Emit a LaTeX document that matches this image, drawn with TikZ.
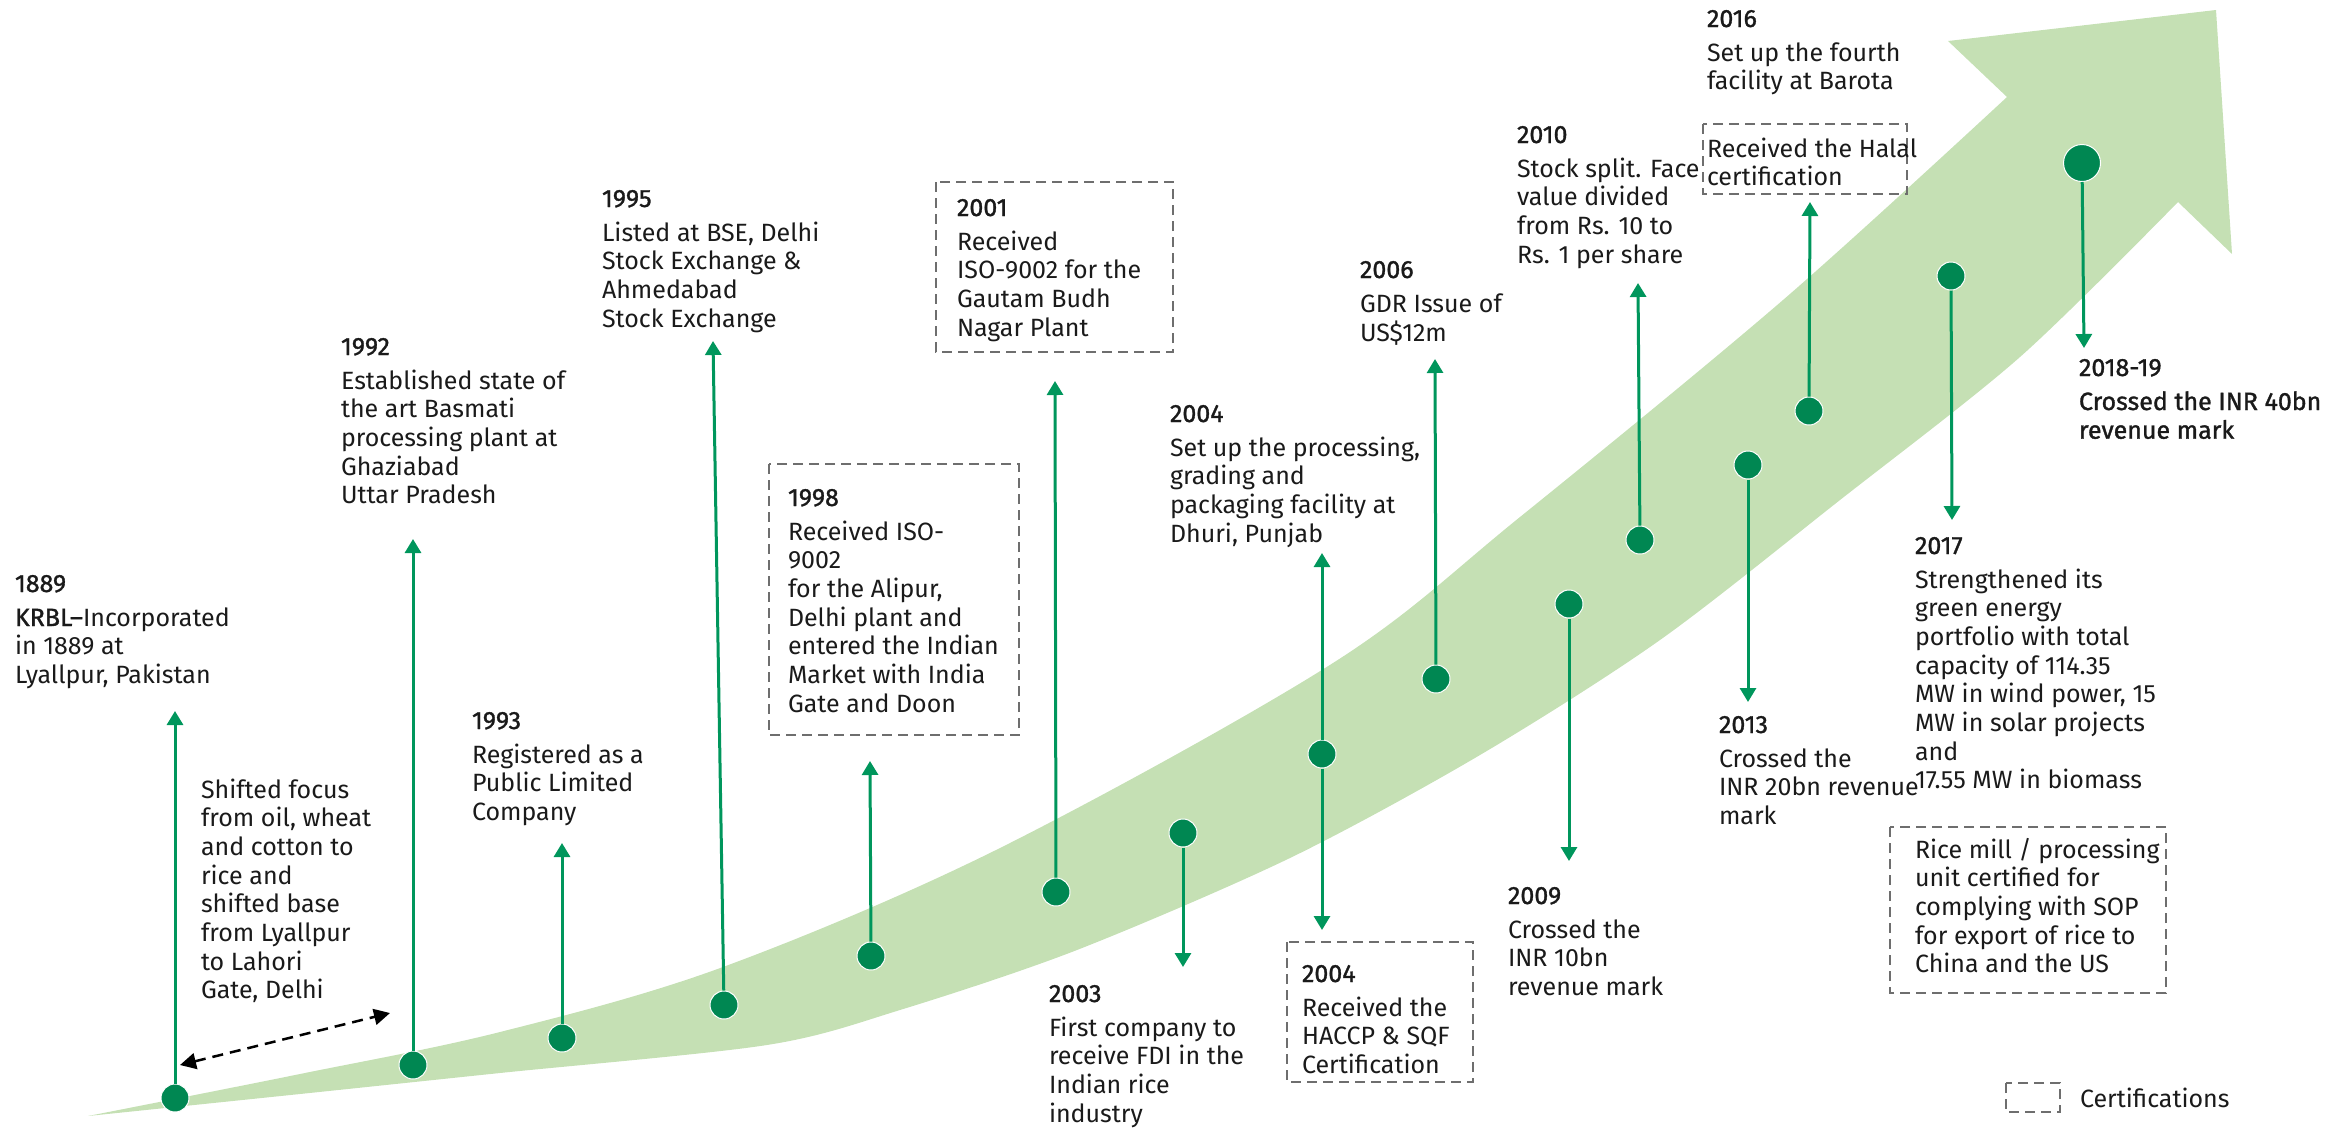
\documentclass[tikz,border=0pt]{standalone}
\usepackage{fontspec}
\setmainfont{Fira Sans}
\newfontfamily\yrfont[FakeBold=1.3]{Fira Sans}
\usetikzlibrary{arrows.meta}
\definecolor{bandg}{HTML}{C5E0B4}
\definecolor{dotg}{HTML}{008752}
\definecolor{arrg}{HTML}{00965C}
\definecolor{boxg}{HTML}{6E6E6E}
\definecolor{txt}{HTML}{1A1A1A}
\newcommand\bodyfont{\fontsize{25pt}{28.7pt}\selectfont}
\newcommand\ev[2]{\begin{tabular}[t]{@{}l@{}}{\yrfont #1}\\[5.3pt]#2\end{tabular}}
\newcommand\lns[1]{\begin{tabular}[t]{@{}l@{}}#1\end{tabular}}
\tikzset{
 dot/.style={circle, fill=dotg, draw=white, line width=1pt, minimum size=28pt, inner sep=0pt},
 bigdot/.style={dot, minimum size=37pt},
 garr/.style={draw=arrg, line width=3pt, -{Triangle[width=16pt,length=14pt]}},
 evt/.style={anchor=base west, inner sep=0pt, outer sep=0pt, text=txt, font=\bodyfont},
 certbox/.style={draw=boxg, line width=2.6pt, dash pattern=on 10pt off 6pt},
 darr/.style={draw=black, line width=2.5pt, dash pattern=on 11pt off 7pt, {Triangle[width=16pt,length=16pt]}-{Triangle[width=16pt,length=16pt]}}
}
\begin{document}
\begin{tikzpicture}[x=1pt,y=-1pt]
\useasboundingbox (0,0) rectangle (2348,1130);
% band arrow
\fill[bandg] plot[smooth, tension=0.55] coordinates {(88,1116) (300,1074) (500,1032) (723,967) (1000,848) (1333,663) (1520,517) (1783,300) (2007,97)}
  -- (1948,41) -- (2216,10) -- (2232,254) -- (2178,202)
  -- plot[smooth, tension=0.5] coordinates {(2178,202) (2020,357) (1840,500) (1660,640) (1480,755) (1290,858) (1077,950) (900,1010) (767,1045) (500,1073) (300,1094) (88,1116)} -- cycle;

% certification boxes
\draw[certbox] (769,464) rectangle (1019,735);
\draw[certbox] (936,182) rectangle (1173,352);
\draw[certbox] (1287,942) rectangle (1473,1082);
\draw[certbox] (1703,124) rectangle (1907,194);
\draw[certbox] (1890,827) rectangle (2166,993);
\draw[certbox] (2006,1083) rectangle (2060,1112);

% dots
\node[dot] (d1889) at (175,1098) {};
\node[dot] (d1992) at (413,1065) {};
\node[dot] (d1993) at (562,1038) {};
\node[dot] (d1995) at (724,1005) {};
\node[dot] (d1998) at (871,956) {};
\node[dot] (d2001) at (1056,892) {};
\node[dot] (d2003) at (1183,833) {};
\node[dot] (d2004) at (1322,754) {};
\node[dot] (d2006) at (1436,679) {};
\node[dot] (d2009) at (1569,604) {};
\node[dot] (d2010) at (1640,540) {};
\node[dot] (d2013) at (1748,465) {};
\node[dot] (d2016) at (1809,411) {};
\node[dot] (d2017) at (1951,276) {};
\node[bigdot] (d2018) at (2082,163) {};

% arrow tips
\coordinate (t1889) at (175,711);
\coordinate (t1992) at (413,539);
\coordinate (t1993) at (562,843);
\coordinate (t1995) at (713,341);
\coordinate (t1998) at (870,761);
\coordinate (t2001) at (1055,381);
\coordinate (t2003) at (1183,967);
\coordinate (t2004u) at (1322,553);
\coordinate (t2004d) at (1322,930);
\coordinate (t2006) at (1435,359);
\coordinate (t2009) at (1569,861);
\coordinate (t2010) at (1638,283);
\coordinate (t2013) at (1748,702);
\coordinate (t2016) at (1810,202);
\coordinate (t2017) at (1952,520);
\coordinate (t2018) at (2084,348);

\draw[garr] (d1889) -- (t1889);
\draw[garr] (d1992) -- (t1992);
\draw[garr] (d1993) -- (t1993);
\draw[garr] (d1995) -- (t1995);
\draw[garr] (d1998) -- (t1998);
\draw[garr] (d2001) -- (t2001);
\draw[garr] (d2003) -- (t2003);
\draw[garr] (d2004) -- (t2004u);
\draw[garr] (d2004) -- (t2004d);
\draw[garr] (d2006) -- (t2006);
\draw[garr] (d2009) -- (t2009);
\draw[garr] (d2010) -- (t2010);
\draw[garr] (d2013) -- (t2013);
\draw[garr] (d2016) -- (t2016);
\draw[garr] (d2017) -- (t2017);
\draw[garr] (d2018) -- (t2018);

% dashed double arrow
\coordinate (sa) at (180,1065);
\coordinate (sb) at (390,1013);
\draw[darr] (sa) -- (sb);

% texts
\node[evt] (n1889) at (15,592) {\ev{1889}{{\yrfont KRBL–}Incorporated\\in 1889 at\\Lyallpur, Pakistan}};
\node[evt] (nshift) at (201,798) {\lns{Shifted focus\\from oil, wheat\\and cotton to\\rice and\\shifted base\\from Lyallpur\\to Lahori\\Gate, Delhi}};
\node[evt] (n1992) at (341,355) {\ev{1992}{Established state of\\the art Basmati\\processing plant at\\Ghaziabad\\Uttar Pradesh}};
\node[evt] (n1993) at (472,729) {\ev{1993}{Registered as a\\Public Limited\\Company}};
\node[evt] (n1995) at (602,207) {\ev{1995}{Listed at BSE, Delhi\\Stock Exchange \&\\Ahmedabad\\Stock Exchange}};
\node[evt] (n1998) at (788,506) {\ev{1998}{Received ISO-\\9002\\for the Alipur,\\Delhi plant and\\entered the Indian\\Market with India\\Gate and Doon}};
\node[evt] (n2001) at (957,216) {\ev{2001}{Received\\ISO-9002 for the\\Gautam Budh\\Nagar Plant}};
\node[evt] (n2003) at (1049,1002) {\ev{2003}{First company to\\receive FDI in the\\Indian rice\\industry}};
\node[evt] (n2004a) at (1170,422) {\ev{2004}{Set up the processing,\\grading and\\packaging facility at\\Dhuri, Punjab}};
\node[evt] (n2004b) at (1302,982) {\ev{2004}{Received the\\HACCP \& SQF\\Certification}};
\node[evt] (n2006) at (1360,278) {\ev{2006}{GDR Issue of\\US\$12m}};
\node[evt] (n2009) at (1508,904) {\ev{2009}{Crossed the\\INR 10bn\\revenue mark}};
\node[evt] (n2010) at (1517,143) {\ev{2010}{Stock split. Face\\value divided\\from Rs. 10 to\\Rs. 1 per share}};
\node[evt] (n2013) at (1719,733) {\ev{2013}{Crossed the\\INR 20bn revenue\\mark}};
\node[evt] (n2016) at (1707,27) {\ev{2016}{Set up the fourth\\facility at Barota}};
\node[evt] (nhalal) at (1707,157) {\lns{Received the Halal\\certification}};
\node[evt] (n2017) at (1915,554) {\ev{2017}{Strengthened its\\green energy\\portfolio with total\\capacity of 114.35\\MW in wind power, 15\\MW in solar projects\\and\\17.55 MW in biomass}};
\node[evt] (nrice) at (1915,858) {\lns{Rice mill / processing\\unit certified for\\complying with SOP\\for export of rice to\\China and the US}};
\node[evt] (n2018) at (2079,376) {\ev{2018-19}{\yrfont Crossed the INR 40bn\\\yrfont revenue mark}};
\node[evt] (nleg) at (2080,1107) {Certifications};
\end{tikzpicture}
\end{document}
